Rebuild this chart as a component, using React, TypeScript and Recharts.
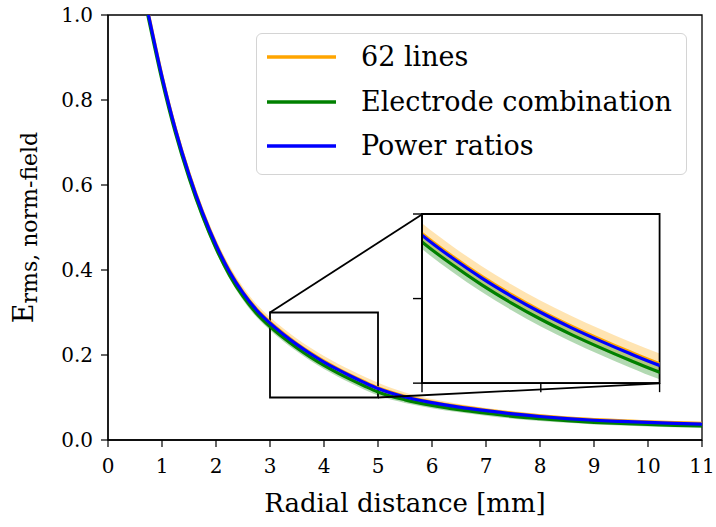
import React from 'react';
import {
  ComposedChart,
  Line,
  Area,
  XAxis,
  YAxis,
  ReferenceArea,
  ReferenceLine,
  Legend,
} from 'recharts';

const FONT = '"DejaVu Serif", serif';

// Radial distance [mm]
const radialDistance = [
  0.7, 0.75, 1.0, 1.25, 1.5, 1.75, 2.0, 2.25, 2.5, 2.75, 3.0, 3.25, 3.5, 3.75, 4.0,
  4.25, 4.5, 4.75, 5.0, 5.5, 6.0, 6.5, 7.0, 7.5, 8.0, 8.5, 9.0, 9.5, 10.0, 10.5, 11.0,
];
// "62 lines"
const lines62 = [
  1.032, 1.002, 0.857, 0.732, 0.627, 0.537, 0.461, 0.398, 0.348, 0.308, 0.277, 0.2505,
  0.2265, 0.205, 0.1855, 0.168, 0.152, 0.137, 0.123, 0.103, 0.0895, 0.079, 0.0705,
  0.063, 0.0568, 0.0518, 0.048, 0.0452, 0.0428, 0.0407, 0.039,
];
// "Electrode combination"
const electrodeCombination = [
  1.022, 0.992, 0.847, 0.722, 0.617, 0.527, 0.451, 0.388, 0.338, 0.298, 0.267, 0.2405,
  0.2165, 0.195, 0.1755, 0.158, 0.142, 0.127, 0.113, 0.0945, 0.0815, 0.0713, 0.063,
  0.0557, 0.0501, 0.0453, 0.0417, 0.0389, 0.0366, 0.0346, 0.033,
];
// "Power ratios"
const powerRatios = [
  1.03, 1.0, 0.855, 0.73, 0.625, 0.535, 0.459, 0.396, 0.346, 0.306, 0.275, 0.2485,
  0.2245, 0.203, 0.1835, 0.166, 0.15, 0.135, 0.121, 0.101, 0.088, 0.0775, 0.069,
  0.0615, 0.0553, 0.0503, 0.0465, 0.0437, 0.0413, 0.0392, 0.0375,
];
// half-widths of the shaded uncertainty bands
const lines62Spread = [
  0.012, 0.012, 0.012, 0.012, 0.012, 0.012, 0.012, 0.012, 0.012, 0.012, 0.012, 0.012,
  0.012, 0.012, 0.012, 0.012, 0.012, 0.012, 0.012, 0.009, 0.007, 0.006, 0.005, 0.005,
  0.0045, 0.004, 0.004, 0.004, 0.0035, 0.0035, 0.0035,
];
const electrodeSpread = [
  0.0085, 0.0085, 0.0085, 0.0085, 0.0085, 0.0085, 0.0085, 0.0085, 0.0085, 0.0085,
  0.0085, 0.0085, 0.0085, 0.0085, 0.0085, 0.0085, 0.0085, 0.0085, 0.0085, 0.0075,
  0.0068, 0.0062, 0.0058, 0.0055, 0.0052, 0.005, 0.005, 0.0048, 0.0047, 0.0046, 0.0045,
];

const seriesNames = ['62 lines', 'Electrode combination', 'Power ratios'];
const seriesColors = ['#ffa500', '#008000', '#0000ff'];

const xTicks = [0, 1, 2, 3, 4, 5, 6, 7, 8, 9, 10, 11];
const yTicks = [0, 0.2, 0.4, 0.6, 0.8, 1.0];
const xDomain = [0, 11];
const yDomain = [0, 1];

// zoomed region and inset placement (in main-axes data coordinates)
const zoomX = [3, 5];
const zoomY = [0.1, 0.3];
const insetXTicks = [3, 4, 5];
const insetYTicks = [0.1, 0.2, 0.3];
const insetX = [5.82, 10.22];
const insetY = [0.133, 0.531];

const data = radialDistance.map((x, i) => ({
  x,
  lines62: lines62[i],
  electrode: electrodeCombination[i],
  power: powerRatios[i],
  lines62Band: [lines62[i] - lines62Spread[i], lines62[i] + lines62Spread[i]],
  electrodeBand: [
    electrodeCombination[i] - electrodeSpread[i],
    electrodeCombination[i] + electrodeSpread[i],
  ],
}));

const W = 716;
const H = 527;
const PLOT = { left: 108, top: 15, right: 702, bottom: 440 };
const YAXIS_W = 60;
const XAXIS_H = 50;
const TICK = 7;
const INSET_TICK = 9;
const LW = 3.2;

const toPx = (x: number) =>
  PLOT.left + ((x - xDomain[0]) / (xDomain[1] - xDomain[0])) * (PLOT.right - PLOT.left);
const toPy = (y: number) =>
  PLOT.top + (1 - (y - yDomain[0]) / (yDomain[1] - yDomain[0])) * (PLOT.bottom - PLOT.top);

const tickStyle = { fill: '#000', fontSize: 20, fontFamily: FONT };
const emptyLabel = () => '';

const XTitle = (props: any) => {
  const vb = props.viewBox;
  return (
    <text
      x={vb.x + vb.width / 2}
      y={vb.y + 72}
      textAnchor="middle"
      fontFamily={FONT}
      fontSize={26}
      fill="#000"
    >
      Radial distance [mm]
    </text>
  );
};

const YTitle = (props: any) => {
  const vb = props.viewBox;
  const cx = vb.x - 15;
  const cy = vb.y + vb.height / 2;
  return (
    <text
      transform={`rotate(-90, ${cx}, ${cy})`}
      x={cx}
      y={cy}
      textAnchor="middle"
      fontFamily={FONT}
      fill="#000"
    >
      <tspan fontSize={27}>E</tspan>
      <tspan fontSize={22} dy={4}>
        rms, norm-field
      </tspan>
    </text>
  );
};

const LegendBox = (props: any) => {
  const payload = (props.payload || []).filter((p: any) => p.type !== 'none');
  return (
    <div
      style={{
        boxSizing: 'border-box',
        width: 431,
        height: 142,
        border: '1.5px solid #d4d4d4',
        borderRadius: 6,
        background: 'rgba(255,255,255,0.8)',
        paddingTop: 1,
      }}
    >
      {payload.map((p: any) => (
        <div
          key={p.value}
          style={{ display: 'flex', alignItems: 'center', height: 44.5 }}
        >
          <svg width={104} height={10} style={{ display: 'block' }}>
            <line x1={10} x2={79} y1={5} y2={5} stroke={p.color} strokeWidth={3.5} />
          </svg>
          <span
            style={{
              fontFamily: FONT,
              fontSize: 27,
              color: '#000',
              lineHeight: '44px',
              whiteSpace: 'nowrap',
            }}
          >
            {p.value}
          </span>
        </div>
      ))}
    </div>
  );
};

const renderSeries = () => [
  <Area
    key="b62"
    dataKey="lines62Band"
    stroke="none"
    fill={seriesColors[0]}
    fillOpacity={0.3}
    isAnimationActive={false}
    legendType="none"
    type="monotone"
    activeDot={false}
  />,
  <Area
    key="bel"
    dataKey="electrodeBand"
    stroke="none"
    fill={seriesColors[1]}
    fillOpacity={0.3}
    isAnimationActive={false}
    legendType="none"
    type="monotone"
    activeDot={false}
  />,
  <Line
    key="l62"
    dataKey="lines62"
    name={seriesNames[0]}
    stroke={seriesColors[0]}
    strokeWidth={LW}
    dot={false}
    type="monotone"
    isAnimationActive={false}
  />,
  <Line
    key="lel"
    dataKey="electrode"
    name={seriesNames[1]}
    stroke={seriesColors[1]}
    strokeWidth={LW}
    dot={false}
    type="monotone"
    isAnimationActive={false}
  />,
  <Line
    key="lpw"
    dataKey="power"
    name={seriesNames[2]}
    stroke={seriesColors[2]}
    strokeWidth={LW}
    dot={false}
    type="monotone"
    isAnimationActive={false}
  />,
];

export default function App() {
  const iL = toPx(insetX[0]);
  const iR = toPx(insetX[1]);
  const iT = toPy(insetY[1]);
  const iB = toPy(insetY[0]);
  const M = 14;
  const IA = 12; // inset axis band size
  return (
    <div
      style={{
        position: 'absolute',
        left: 0,
        top: 0,
        width: W,
        height: H,
        background: '#fff',
      }}
    >
      <ComposedChart
        width={W}
        height={H}
        data={data}
        margin={{
          top: PLOT.top,
          right: W - PLOT.right,
          bottom: H - PLOT.bottom - XAXIS_H,
          left: PLOT.left - YAXIS_W,
        }}
      >
        <XAxis
          dataKey="x"
          type="number"
          domain={xDomain}
          ticks={xTicks}
          allowDataOverflow
          height={XAXIS_H}
          tickSize={TICK}
          tickMargin={12}
          tick={tickStyle}
          axisLine={{ stroke: '#000', strokeWidth: 1.3 }}
          tickLine={{ stroke: '#000', strokeWidth: 1.2 }}
          interval={0}
          label={XTitle}
        />
        <YAxis
          type="number"
          domain={yDomain}
          ticks={yTicks}
          allowDataOverflow
          width={YAXIS_W}
          tickSize={TICK}
          tickMargin={8}
          tick={tickStyle}
          tickFormatter={(v: number) => v.toFixed(1)}
          axisLine={{ stroke: '#000', strokeWidth: 1.3 }}
          tickLine={{ stroke: '#000', strokeWidth: 1.2 }}
          interval={0}
          label={YTitle}
        />
        {renderSeries()}
        <ReferenceArea
          x1={xDomain[0]}
          x2={xDomain[1]}
          y1={yDomain[0]}
          y2={yDomain[1]}
          fill="none"
          stroke="#000"
          strokeWidth={1.3}
        />
        <ReferenceArea
          x1={zoomX[0]}
          x2={zoomX[1]}
          y1={zoomY[0]}
          y2={zoomY[1]}
          fill="none"
          fillOpacity={0}
          stroke="#000"
          strokeWidth={1.8}
        />
        <ReferenceLine
          segment={[
            { x: zoomX[0], y: zoomY[1] },
            { x: insetX[0], y: insetY[1] },
          ]}
          stroke="#000"
          strokeWidth={1.8}
          ifOverflow="visible"
        />
        <ReferenceLine
          segment={[
            { x: zoomX[1], y: zoomY[0] },
            { x: insetX[1], y: insetY[0] },
          ]}
          stroke="#000"
          strokeWidth={1.8}
          ifOverflow="visible"
        />
        <Legend
          layout="vertical"
          align="center"
          verticalAlign="middle"
          content={LegendBox}
          wrapperStyle={{ position: 'absolute', left: 256, top: 33, width: 431, height: 142 }}
        />
      </ComposedChart>

      <div
        style={{
          position: 'absolute',
          left: iL - M,
          top: iT - M,
          width: iR - iL + 2 * M,
          height: iB - iT + 2 * M,
        }}
      >
        <ComposedChart
          width={iR - iL + 2 * M}
          height={iB - iT + 2 * M}
          data={data}
          margin={{ top: M, right: M, bottom: M - IA, left: M - IA }}
        >
          <XAxis
            dataKey="x"
            type="number"
            domain={zoomX}
            ticks={insetXTicks}
            allowDataOverflow
            height={IA}
            tickSize={INSET_TICK}
            tickFormatter={emptyLabel}
            axisLine={{ stroke: '#000', strokeWidth: 1.8 }}
            tickLine={{ stroke: '#000', strokeWidth: 1.4 }}
            interval={0}
          />
          <YAxis
            type="number"
            domain={zoomY}
            ticks={insetYTicks}
            allowDataOverflow
            width={IA}
            tickSize={INSET_TICK}
            tickFormatter={emptyLabel}
            axisLine={{ stroke: '#000', strokeWidth: 1.8 }}
            tickLine={{ stroke: '#000', strokeWidth: 1.4 }}
            interval={0}
          />
          {renderSeries()}
          <ReferenceArea
            x1={zoomX[0]}
            x2={zoomX[1]}
            y1={zoomY[0]}
            y2={zoomY[1]}
            fill="none"
            fillOpacity={0}
            stroke="#000"
            strokeWidth={1.8}
          />
        </ComposedChart>
      </div>
    </div>
  );
}
